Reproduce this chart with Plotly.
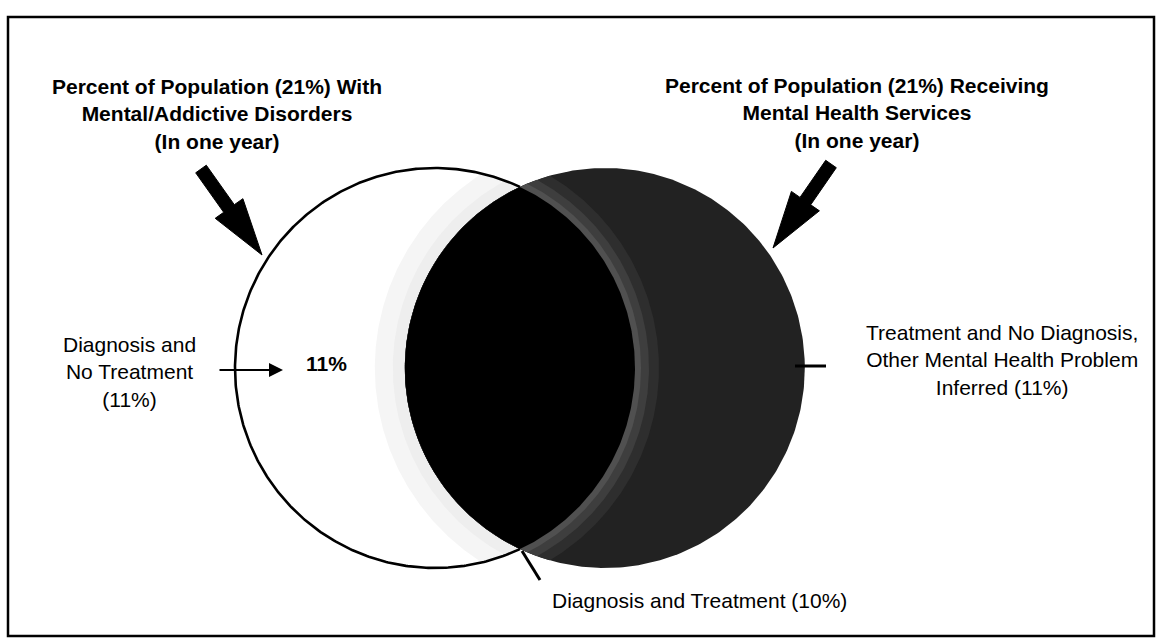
import numpy as np
import plotly.graph_objects as go

# ---- data ----
SET_TITLES = [
    "Percent of Population (21%) With<br>Mental/Addictive Disorders<br>(In one year)",
    "Percent of Population (21%) Receiving<br>Mental Health Services<br>(In one year)",
]
SET_PCT = [21, 21]
REGION_LABELS = [
    "Diagnosis and<br>No Treatment<br>({}%)",
    "Diagnosis and Treatment ({}%)",
    "Treatment and No Diagnosis,<br>Other Mental Health Problem<br>Inferred ({}%)",
]
REGION_PCT = [11, 10, 11]

# ---- geometry (area-proportional Venn) ----
W, H = 1169, 638
AREA_PER_PCT = np.pi * 200 ** 2 / 21.0
CY = 368
CX_LEFT = 435

r1 = np.sqrt(SET_PCT[0] * AREA_PER_PCT / np.pi)
r2 = np.sqrt(SET_PCT[1] * AREA_PER_PCT / np.pi)
target = REGION_PCT[1] * AREA_PER_PCT


def lens_area(ra, rb, d):
    a = ra ** 2 * np.arccos((d ** 2 + ra ** 2 - rb ** 2) / (2 * d * ra))
    b = rb ** 2 * np.arccos((d ** 2 + rb ** 2 - ra ** 2) / (2 * d * rb))
    c = 0.5 * np.sqrt((-d + ra + rb) * (d + ra - rb) * (d - ra + rb) * (d + ra + rb))
    return a + b - c


lo, hi = abs(r1 - r2) + 1e-6, r1 + r2 - 1e-6
for _ in range(100):
    mid = 0.5 * (lo + hi)
    if lens_area(r1, r2, mid) > target:
        lo = mid
    else:
        hi = mid
D = 0.5 * (lo + hi)
CX_RIGHT = CX_LEFT + D


def arc(cx, cy, r, a0, a1, n=240):
    t = np.linspace(a0, a1, n)
    return cx + r * np.cos(t), cy + r * np.sin(t)


def lens(ca, ra, cb, rb):
    d = cb - ca
    x0 = (d ** 2 - rb ** 2 + ra ** 2) / (2 * d)
    h = np.sqrt(max(ra ** 2 - x0 ** 2, 0))
    tha = np.arctan2(h, x0)
    phi = np.arctan2(h, x0 - d)
    xa, ya = arc(ca, CY, ra, -tha, tha)
    xb, yb = arc(cb, CY, rb, phi, 2 * np.pi - phi)
    return np.concatenate([xa, xb]), np.concatenate([ya, yb])


def circle(cx, r):
    return arc(cx, CY, r, 0, 2 * np.pi, 400)


fig = go.Figure()


def add_fill(xy, color):
    x, y = xy
    fig.add_trace(go.Scatter(
        x=x, y=y, mode="lines", fill="toself", fillcolor=color,
        line=dict(width=0, color=color), hoverinfo="skip", showlegend=False))


# left circle (white)
add_fill(circle(CX_LEFT, r1), "white")
# faint stipple on left crescent near overlap
add_fill(lens(CX_LEFT, r1, CX_RIGHT, r2 + 30), "#f5f5f5")
add_fill(lens(CX_LEFT, r1, CX_RIGHT, r2 + 12), "#eeeeee")
# right circle (dark speckled)
add_fill(circle(CX_RIGHT, r2), "#222222")
add_fill(lens(CX_LEFT, r1 + 24, CX_RIGHT, r2), "#2e2e2e")
add_fill(lens(CX_LEFT, r1 + 14, CX_RIGHT, r2), "#3e3e3e")
add_fill(lens(CX_LEFT, r1 + 6, CX_RIGHT, r2), "#505050")
# overlap (black)
add_fill(lens(CX_LEFT, r1, CX_RIGHT, r2), "#000000")

# left circle outline (only the part outside the right circle)
d = D
x0 = (d ** 2 - r2 ** 2 + r1 ** 2) / (2 * d)
hh = np.sqrt(r1 ** 2 - x0 ** 2)
tha = np.arctan2(hh, x0)
ox, oy = arc(CX_LEFT, CY, r1, tha, 2 * np.pi - tha, 400)
fig.add_trace(go.Scatter(x=ox, y=oy, mode="lines", line=dict(color="black", width=2.6),
                         hoverinfo="skip", showlegend=False))


def thick_arrow(start, tip, sw=6.5, hw=17, hl=57):
    s = np.array(start, float)
    t = np.array(tip, float)
    u = (t - s) / np.linalg.norm(t - s)
    n = np.array([-u[1], u[0]])
    b = t - u * hl
    pts = [s + n * sw, b + n * sw, b + n * hw, t, b - n * hw, b - n * sw, s - n * sw]
    path = "M " + " L ".join(f"{p[0]:.1f},{p[1]:.1f}" for p in pts) + " Z"
    fig.add_shape(type="path", path=path, xref="x", yref="y",
                  fillcolor="black", line=dict(color="black", width=1))


thick_arrow((201, 169), (262, 255))
thick_arrow((831, 164), (773, 248))

# leader lines
fig.add_shape(type="line", x0=795, y0=366, x1=826, y1=366, xref="x", yref="y",
              line=dict(color="black", width=3))
fig.add_shape(type="line", x0=522, y0=551, x1=540, y1=580, xref="x", yref="y",
              line=dict(color="black", width=3))
# frame
fig.add_shape(type="rect", x0=8, y0=17, x1=1154, y1=636, xref="x", yref="y",
              line=dict(color="black", width=2.5))

FONT = "Liberation Sans, Arial, Helvetica, sans-serif"
bold = dict(family=FONT, size=21, color="black", weight="bold")
reg = dict(family=FONT, size=21, color="black")

fig.add_annotation(x=217, y=114, text=SET_TITLES[0], showarrow=False, font=bold,
                   xref="x", yref="y", align="center")
fig.add_annotation(x=857, y=113, text=SET_TITLES[1], showarrow=False, font=bold,
                   xref="x", yref="y", align="center")
fig.add_annotation(x=129, y=372, text=REGION_LABELS[0].format(REGION_PCT[0]), showarrow=False,
                   font=reg, xref="x", yref="y", align="center")
fig.add_annotation(x=326, y=363, text=f"{REGION_PCT[0]}%", showarrow=False, font=bold,
                   xref="x", yref="y")
fig.add_annotation(x=699, y=600, text=REGION_LABELS[1].format(REGION_PCT[1]), showarrow=False,
                   font=reg, xref="x", yref="y")
fig.add_annotation(x=1002, y=360, text=REGION_LABELS[2].format(REGION_PCT[2]), showarrow=False,
                   font=reg, xref="x", yref="y", align="center")
# small arrow into left crescent
fig.add_annotation(x=283, y=370, ax=218, ay=370, axref="x", ayref="y", xref="x", yref="y",
                   text="", showarrow=True, arrowhead=2, arrowsize=1.4, arrowwidth=2,
                   arrowcolor="black")

fig.update_layout(
    width=W, height=H, margin=dict(l=0, r=0, t=0, b=0),
    paper_bgcolor="white", plot_bgcolor="white",
    xaxis=dict(range=[0, W], visible=False, fixedrange=True),
    yaxis=dict(range=[H, 0], visible=False, fixedrange=True),
    showlegend=False,
)
fig.write_html(
    "out.html",
    config={"displayModeBar": False},
    post_script="document.body.style.margin='0';document.body.style.overflow='hidden';",
)
